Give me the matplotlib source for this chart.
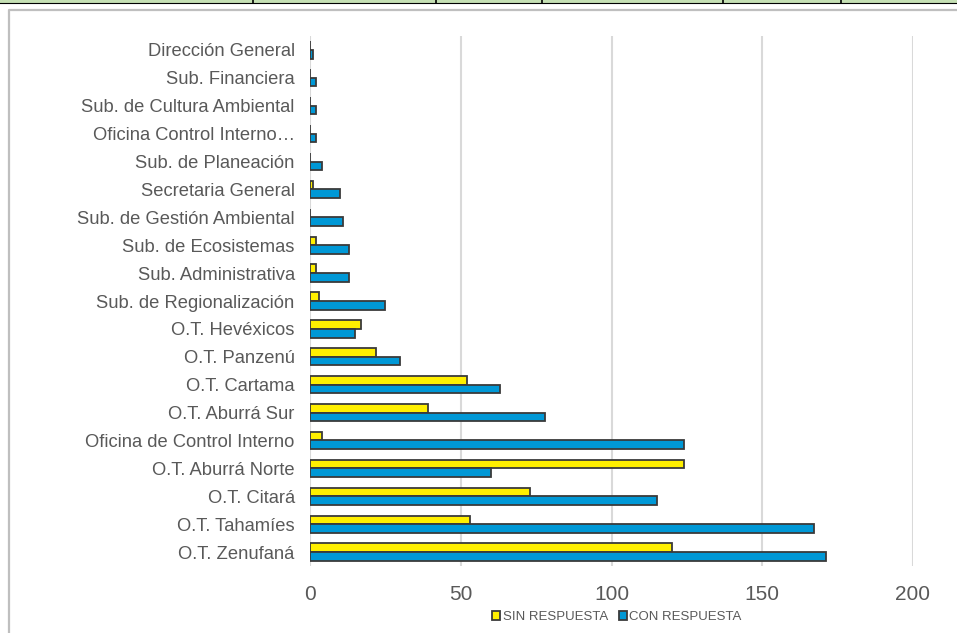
import matplotlib.pyplot as plt
from matplotlib.lines import Line2D
from matplotlib.patches import Rectangle
import numpy as np

plt.rcParams['font.family'] = ['Liberation Sans', 'DejaVu Sans']

areas = ["Dirección General", "Sub. Financiera", "Sub. de Cultura Ambiental",
         "Oficina Control Interno…", "Sub. de Planeación", "Secretaria General",
         "Sub. de Gestión Ambiental", "Sub. de Ecosistemas", "Sub. Administrativa",
         "Sub. de Regionalización", "O.T. Hevéxicos", "O.T. Panzenú",
         "O.T. Cartama", "O.T. Aburrá Sur", "Oficina de Control Interno",
         "O.T. Aburrá Norte", "O.T. Citará", "O.T. Tahamíes", "O.T. Zenufaná"]
sin_respuesta = [0, 0, 0, 0, 0, 1, 0, 2, 2, 3, 17, 22, 52, 39, 4, 124, 73, 53, 120]
con_respuesta = [1, 2, 2, 2, 4, 10, 11, 13, 13, 25, 15, 30, 63, 78, 124, 60, 115, 167, 171]

W, H = 957, 633
fig = plt.figure(figsize=(W / 100, H / 100), dpi=100)

# table edge above the chart
fig.add_artist(Rectangle((0, 1 - 3 / H), 1, 3 / H, transform=fig.transFigure,
                         facecolor='#c5e0b4', edgecolor='none'))
fig.add_artist(Line2D([0, 1], [1 - 3 / H, 1 - 3 / H], transform=fig.transFigure,
                      color='black', lw=0.8))
for xp in [253, 436, 542, 723, 841]:
    fig.add_artist(Line2D([xp / W, xp / W], [1, 1 - 3 / H], transform=fig.transFigure,
                          color='black', lw=1.2))

# chart frame (top and left edges visible)
fig.add_artist(Line2D([9 / W, 9 / W, 1], [0, 1 - 10 / H, 1 - 10 / H],
                      transform=fig.transFigure, color='#bfbfbf', lw=1.6))

ax = fig.add_axes([310 / W, 1 - 566 / H, 603 / W, 530 / H])

y = np.arange(len(areas))
h = 0.31
ax.barh(y - h / 2, sin_respuesta, height=h, color='#ffef00', edgecolor='#3a3a3a',
        linewidth=1.3, label='SIN RESPUESTA', zorder=3)
ax.barh(y + h / 2, con_respuesta, height=h, color='#0098d6', edgecolor='#3a3a3a',
        linewidth=1.3, label='CON RESPUESTA', zorder=3)

ax.set_xlim(0, 200)
ax.set_ylim(len(areas) - 0.5, -0.5)
ax.set_xticks([0, 50, 100, 150, 200])
ax.set_yticks(y)
ax.set_yticklabels(areas)
ax.tick_params(axis='y', length=0, pad=11, labelsize=13.2, labelcolor='#595959')
ax.tick_params(axis='x', length=0, pad=14, labelsize=15, labelcolor='#595959')
ax.grid(axis='x', color='#d9d9d9', lw=1.5, zorder=0)
for s in ax.spines.values():
    s.set_visible(False)

ax.legend(loc='center', bbox_to_anchor=(617 / W, 1 - 617 / H),
          bbox_transform=fig.transFigure, ncol=2, frameon=False,
          fontsize=9.5, handlelength=0.6, handleheight=0.6, handletextpad=0.2,
          columnspacing=0.8, labelcolor='#595959')

fig.savefig('out.png', dpi=100)
